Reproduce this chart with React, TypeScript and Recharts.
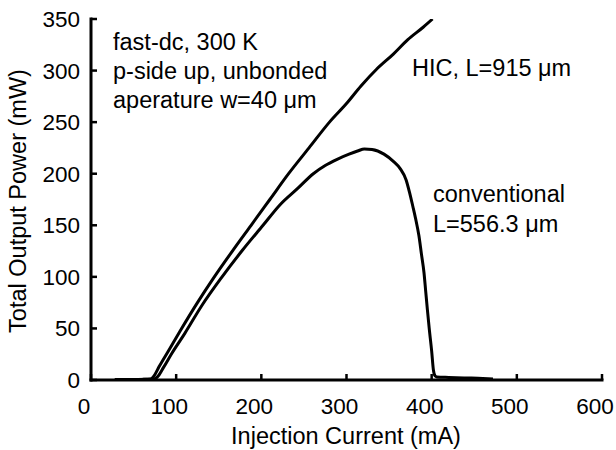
import React from 'react';
import { LineChart, Line, XAxis, YAxis } from 'recharts';

// Injection current (mA) and total output power (mW)
const hicCurrent = [28, 40, 55, 65, 70, 74, 80, 90, 105, 125, 144, 166, 188, 210, 232, 256, 280, 300, 317, 335, 355, 372, 390, 401];
const hicPower = [0.5, 0.5, 0.6, 0.8, 1, 4, 13, 27, 48, 75, 99, 125, 150, 175, 200, 225, 250, 268, 285, 301, 316, 330, 342, 350];

const convCurrent = [28, 45, 60, 70, 74, 78, 85, 95, 110, 130, 153, 178, 202, 222, 243, 261, 275, 289, 303, 313, 321, 330, 344, 355, 363, 370, 374, 378, 381, 385, 388, 391, 393, 395, 397, 400, 402, 404, 406, 420, 440, 460, 472];
const convPower = [0.5, 0.5, 0.6, 0.8, 1, 3, 12, 26, 45, 72, 99, 126, 150, 170, 186, 200, 208, 214, 219, 222, 224, 223.5, 219, 212, 205, 194, 182, 168, 157, 140, 122, 104, 86, 68, 51, 28, 10, 4, 3, 2.5, 2, 1.5, 1];

const xTicks = [0, 100, 200, 300, 400, 500, 600];
const yTicks = [0, 50, 100, 150, 200, 250, 300, 350];

const xTitle = 'Injection Current (mA)';
const yTitle = 'Total Output Power (mW)';
const notesLeft = ['fast-dc, 300 K', 'p-side up, unbonded', 'aperature w=40 \u03bcm'];
const noteHic = 'HIC, L=915 \u03bcm';
const noteConv = ['conventional', 'L=556.3 \u03bcm'];

const hicData = hicCurrent.map((x, i) => ({ x, y: hicPower[i] }));
const convData = convCurrent.map((x, i) => ({ x, y: convPower[i] }));

const FONT = '"Liberation Sans", Arial, Helvetica, sans-serif';
const TICK_FS = 22.5;
const LABEL_FS = 23.5;

const XTick = (props: any) => {
  const { x, y, payload } = props;
  return (
    <text x={x - 7} y={y} dy="0.71em" textAnchor="middle" fontSize={TICK_FS} fontFamily={FONT} fill="#000">
      {payload.value}
    </text>
  );
};

const YTick = (props: any) => {
  const { x, y, payload } = props;
  return (
    <text x={x} y={y} dy="0.355em" textAnchor="end" fontSize={TICK_FS} fontFamily={FONT} fill="#000">
      {payload.value}
    </text>
  );
};

const Empty = () => <g />;

const axisLine = { stroke: '#000', strokeWidth: 3, strokeLinecap: 'square' as const };
const tickLine = { stroke: '#000', strokeWidth: 2.5 };

export default function App() {
  return (
    <div style={{ position: 'absolute', left: 0, top: 0, width: 616, height: 450, background: '#fff' }}>
      <LineChart width={616} height={450} margin={{ top: 19, right: 14, bottom: 0, left: 0 }}>
        <XAxis
          dataKey="x"
          type="number"
          domain={[0, 600]}
          ticks={xTicks}
          allowDataOverflow
          height={70}
          tickSize={-6}
          tickMargin={24}
          axisLine={axisLine}
          tickLine={tickLine}
          tick={XTick}
        />
        <XAxis
          xAxisId="top"
          orientation="top"
          dataKey="x"
          type="number"
          domain={[0, 600]}
          ticks={xTicks}
          allowDataOverflow
          height={0}
          tickSize={-6}
          axisLine={axisLine}
          tickLine={tickLine}
          tick={Empty}
        />
        <YAxis
          type="number"
          domain={[0, 350]}
          ticks={yTicks}
          allowDataOverflow
          width={91}
          tickSize={-6}
          tickMargin={17}
          axisLine={axisLine}
          tickLine={tickLine}
          tick={YTick}
        />
        <YAxis
          yAxisId="right"
          orientation="right"
          type="number"
          domain={[0, 350]}
          ticks={yTicks}
          allowDataOverflow
          width={0}
          tickSize={-6}
          axisLine={axisLine}
          tickLine={tickLine}
          tick={Empty}
        />
        <Line data={hicData} dataKey="y" type="monotone" stroke="#000" strokeWidth={3} dot={false} isAnimationActive={false} />
        <Line data={convData} dataKey="y" type="monotone" stroke="#000" strokeWidth={3} dot={false} isAnimationActive={false} />
      </LineChart>
      <svg width={616} height={450} style={{ position: 'absolute', left: 0, top: 0, pointerEvents: 'none' }}>
        <g fontFamily={FONT} fontSize={LABEL_FS} fill="#000">
          <text x={346} y={444} textAnchor="middle">{xTitle}</text>
          <text x={0} y={0} textAnchor="middle" transform="translate(26,201) rotate(-90)">{yTitle}</text>
          {notesLeft.map((t, i) => (
            <text key={t} x={113} y={50 + i * 29}>{t}</text>
          ))}
          <text x={412} y={76}>{noteHic}</text>
          {noteConv.map((t, i) => (
            <text key={t} x={433} y={202 + i * 30}>{t}</text>
          ))}
        </g>
      </svg>
    </div>
  );
}
